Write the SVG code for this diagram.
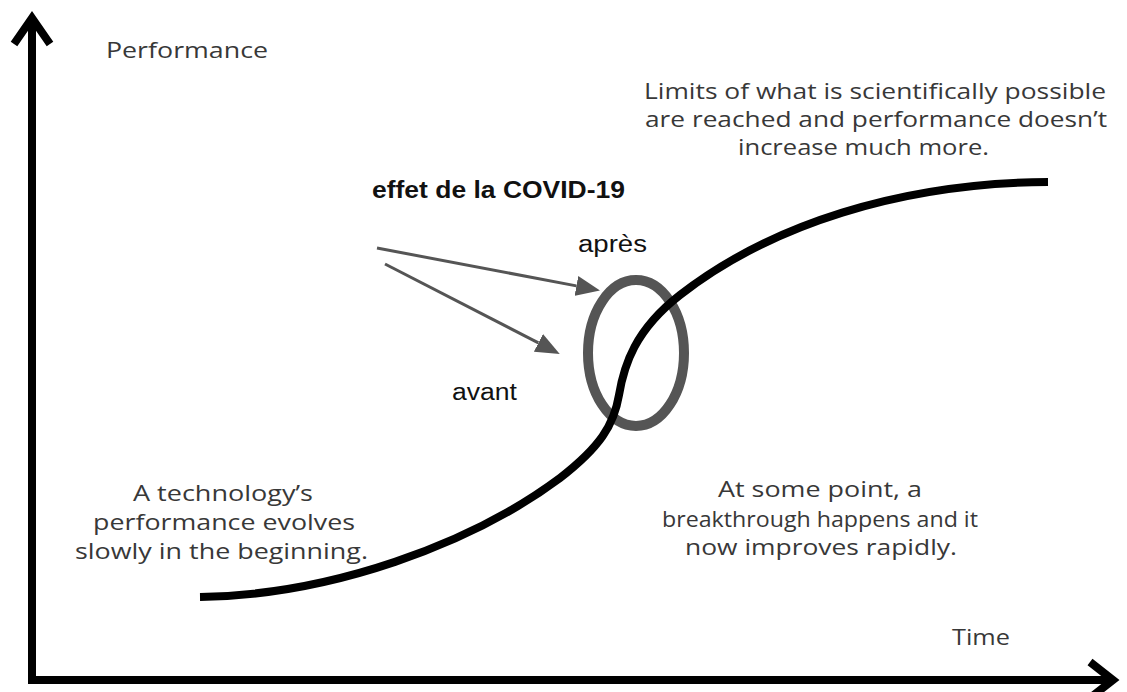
<svg xmlns="http://www.w3.org/2000/svg" width="1127" height="692" viewBox="0 0 1127 692">
<style>
.ax{fill:none;stroke:#000;stroke-width:8;stroke-linecap:butt;stroke-linejoin:miter}
.cal{font-family:"Open Sans","Liberation Sans",sans-serif;font-size:22px;fill:#383838}
.ar{font-family:"Liberation Sans",Arial,sans-serif;font-size:23px;fill:#111}
.arb{font-family:"Liberation Sans",Arial,sans-serif;font-size:23px;font-weight:bold;fill:#111}
.con{fill:none;stroke:#555;stroke-width:3}
</style>
<defs>
<marker id="ah" markerUnits="userSpaceOnUse" viewBox="0 0 24 20" refX="0" refY="10" markerWidth="24" markerHeight="20" orient="auto">
<path d="M0,0 L24,10 L0,20 Z" fill="#555"/>
</marker>
</defs>
<rect width="1127" height="692" fill="#fff"/>
<g id="axes">
<path class="ax" d="M32,20 V680 H1110"/>
<path class="ax" d="M14,44 L32,18 L50,44"/>
<path class="ax" d="M1090,662 L1113,680 L1090,698"/>
</g>
<g id="ellipse-covid">
<ellipse cx="636" cy="353" rx="48" ry="73" fill="none" stroke="#555" stroke-width="10"/>
</g>
<g id="s-curve">
<path d="M200,597 C330,595 470,545 560,478 C600,447 614,425 619,395 C624,365 635,330 680,295 C770,225 900,183 1048,182" fill="none" stroke="#000" stroke-width="8"/>
</g>
<g id="connectors">
<line class="con" x1="377" y1="248" x2="576.4" y2="285.9" marker-end="url(#ah)"/>
<line class="con" x1="385" y1="264" x2="538.4" y2="342.9" marker-end="url(#ah)"/>
</g>
<g id="label-performance"><text class="cal" x="106" y="58" textLength="162" lengthAdjust="spacingAndGlyphs">Performance</text></g>
<g id="label-time"><text class="cal" x="952" y="645" textLength="58" lengthAdjust="spacingAndGlyphs">Time</text></g>
<g id="note-limits">
<text class="cal" x="644" y="99" textLength="462" lengthAdjust="spacingAndGlyphs">Limits of what is scientifically possible</text>
<text class="cal" x="645" y="127" textLength="462" lengthAdjust="spacingAndGlyphs">are reached and performance doesn’t</text>
<text class="cal" x="738" y="155" textLength="251" lengthAdjust="spacingAndGlyphs">increase much more.</text>
</g>
<g id="note-slow">
<text class="cal" x="133" y="501" textLength="180" lengthAdjust="spacingAndGlyphs">A technology’s</text>
<text class="cal" x="93" y="530" textLength="262" lengthAdjust="spacingAndGlyphs">performance evolves</text>
<text class="cal" x="75" y="559" textLength="293" lengthAdjust="spacingAndGlyphs">slowly in the beginning.</text>
</g>
<g id="note-breakthrough">
<text class="cal" x="718" y="497" textLength="204" lengthAdjust="spacingAndGlyphs">At some point, a</text>
<text class="cal" x="662" y="527" textLength="316" lengthAdjust="spacingAndGlyphs">breakthrough happens and it</text>
<text class="cal" x="685" y="555" textLength="272" lengthAdjust="spacingAndGlyphs">now improves rapidly.</text>
</g>
<g id="label-covid"><text class="arb" x="372" y="198" textLength="253" lengthAdjust="spacingAndGlyphs">effet de la COVID-19</text></g>
<g id="label-apres"><text class="ar" x="578" y="252" textLength="69" lengthAdjust="spacingAndGlyphs">après</text></g>
<g id="label-avant"><text class="ar" x="452" y="400" textLength="65" lengthAdjust="spacingAndGlyphs">avant</text></g>
</svg>
